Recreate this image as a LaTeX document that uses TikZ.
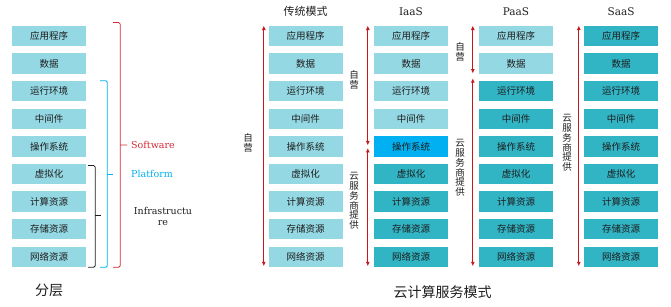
\documentclass[tikz,border=0pt]{standalone}
\usepackage{fontspec}
\setmainfont{DejaVu Serif}
\newfontfamily\cjk{Noto Sans CJK SC}
\usetikzlibrary{arrows.meta,positioning,calc}
\definecolor{lite}{HTML}{94D8E3}
\definecolor{cloud}{HTML}{31B4C4}
\definecolor{sky}{HTML}{00B0F0}
\definecolor{brick}{HTML}{C8161D}
\definecolor{rose}{HTML}{D42A35}
\definecolor{ink}{HTML}{1E1E1E}

\begin{document}
\begin{tikzpicture}[x=1pt,y=-1pt,
  layer/.style={minimum width=74pt,minimum height=20.5pt,inner sep=0pt,
                text=ink,font=\cjk\fontsize{9.5}{10}\selectfont},
  own/.style={brick,line width=0.9pt,
              {Latex[length=4.5pt,width=4pt]}-{Latex[length=4.5pt,width=4pt]}},
  vlab/.style={align=center,inner sep=0pt,text=ink,
               font=\cjk\fontsize{9.5}{9.8}\selectfont},
  head/.style={inner sep=1pt,text=ink,font=\fontsize{10.5}{12}\selectfont},
  tag/.style={inner sep=1pt,anchor=west,font=\fontsize{9.5}{11}\selectfont},
  bracket/.style={line width=0.8pt,rounded corners=1.5pt}]
  \useasboundingbox (0,0) rectangle (671,307);

  % layer stacks
  \foreach \txt [count=\r] in {应用程序,数据,运行环境,中间件,操作系统,虚拟化,计算资源,存储资源,网络资源}{
    \pgfmathsetmacro{\yy}{36+27.6*(\r-1)}
    \ifnum\r<5 \def\ic{lite}\else\ifnum\r=5 \def\ic{sky}\else\def\ic{cloud}\fi\fi
    \ifnum\r<3 \def\pc{lite}\else\def\pc{cloud}\fi
    \node[layer,fill=lite] (l\r) at (49,\yy) {\txt};
    \node[layer,fill=lite] (t\r) at (305.5,\yy) {\txt};
    \node[layer,fill=\ic] (i\r) at (411,\yy) {\txt};
    \node[layer,fill=\pc] (p\r) at (516,\yy) {\txt};
    \node[layer,fill=cloud] (s\r) at (621,\yy) {\txt};
  }

  % headings
  \node[head,font=\cjk\fontsize{11}{12}\selectfont] (hdt) at ($(t1.north)+(0,-14)$) {传统模式};
  \node[head] (hdi) at ($(i1.north)+(0,-14)$) {IaaS};
  \node[head] (hdp) at ($(p1.north)+(0,-14)$) {PaaS};
  \node[head] (hds) at ($(s1.north)+(0,-14)$) {SaaS};
  \node[text=ink,font=\cjk\fontsize{14}{16}\selectfont] (cap1) at (49,290) {分层};
  \node[text=ink,font=\cjk\fontsize{14}{16}\selectfont] (cap2) at (442.5,292) {云计算服务模式};

  % brackets on the left stack
  \node[tag,text=rose] (soft) at (130,145) {Software};
  \node[tag,text=sky] (plat) at (130,174) {Platform};
  \node[inner sep=1pt,align=center,text=ink,font=\fontsize{9.5}{11}\selectfont]
    (infra) at (163,216) {Infrastructu\\re};
  \draw[bracket,rose] ($(l1.north east)+(27,-3)$) -| ($(l9.south east)+(34,0)$) -- ++(-7,0);
  \draw[rose,line width=0.8pt,shorten >=3pt] ($(l5.east)+(34,-1.4)$) -- (soft.west);
  \draw[bracket,sky] ($(l3.north east)+(14,0)$) -| ($(l9.south east)+(21,0)$) -- ++(-7,0);
  \draw[sky,line width=0.8pt] ($(l6.east)+(21,0)$) -- ++(6,0);
  \draw[bracket,ink] ($(l6.north east)+(2,2)$) -| ($(l9.south east)+(9,0)$) -- ++(-7,0);
  \draw[ink,line width=0.8pt] ($(l7.east)!0.5!(l8.east)+(9,0)$) -- ++(6,0);

  % who runs what
  \draw[own] ($(t1.north west)+(-4.5,0)$) -- ($(t9.south west)+(-4.5,-1)$);
  \node[vlab] (own1) at (248,143) {自\\营};

  \draw[own] ($(i1.north west)+(-6,0)$) -- ($(i5.west)+(-6,-1)$);
  \draw[own] ($(i5.west)+(-6,1.6)$) -- ($(i9.south west)+(-6,-1)$);
  \node[vlab] (own2) at (354,80) {自\\营};
  \node[vlab] (prov2) at (354,201) {云\\服\\务\\商\\提\\供};

  \draw[own] ($(p1.north west)+(-6,0)$) -- ($(p2.south west)+(-6,-0.5)$);
  \draw[own] ($(p3.north west)+(-6,-2.5)$) -- ($(p9.south west)+(-6,-1)$);
  \node[vlab] (own3) at (460,52) {自\\营};
  \node[vlab] (prov3) at (460,168) {云\\服\\务\\商\\提\\供};

  \draw[own] ($(s1.north west)+(-5,0)$) -- ($(s9.south west)+(-5,-1)$);
  \node[vlab] (prov4) at (567,143) {云\\服\\务\\商\\提\\供};
\end{tikzpicture}
\end{document}
